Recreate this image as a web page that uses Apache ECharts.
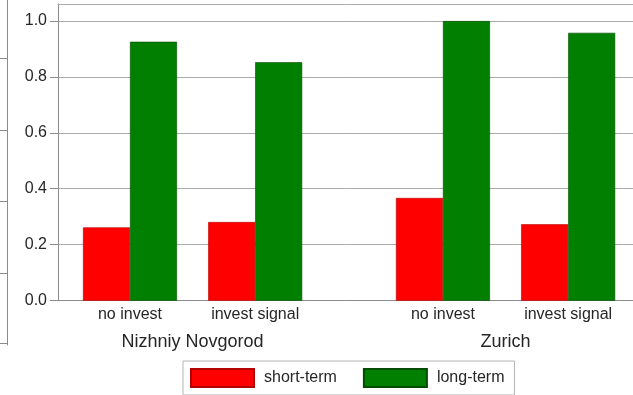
<!DOCTYPE html>
<html>
<head>
<meta charset="utf-8">
<script src="https://cdn.jsdelivr.net/npm/echarts@6/dist/echarts.min.js"></script>
<style>
  html, body { margin: 0; padding: 0; background: #fff; }
  #chart { width: 633px; height: 395px; }
</style>
</head>
<body>
<div id="chart"></div>
<script>
// Share of respondents by planning horizon, per city and condition
const cities = ['Nizhniy Novgorod', 'Zurich'];
const conditions = ['no invest', 'invest signal'];
const seriesNames = ['short-term', 'long-term'];
const shortTerm = [0.262, 0.281, 0.367, 0.273];
const longTerm = [0.925, 0.852, 0.999, 0.957];
const yTicks = [0, 0.2, 0.4, 0.6, 0.8, 1.0];

// Layout of the bar pairs along a numeric x axis: conditions are one unit apart,
// cities are separated by a wider step.
const GROUP_STEP = 2.5;
const xPos = [];
cities.forEach((c, g) => conditions.forEach((_, k) => xPos.push(g * GROUP_STEP + k)));
const cityPos = cities.map((c, g) => g * GROUP_STEP + (conditions.length - 1) / 2);

const FONT = '"Liberation Sans", Arial, Helvetica, sans-serif';
const AXIS_GRAY = '#8c8c8c';
const GRID_GRAY = '#ababab';
const TEXT = '#262626';

const chart = echarts.init(document.getElementById('chart'), null, { renderer: 'canvas' });

chart.setOption({
  animation: false,
  backgroundColor: '#ffffff',
  textStyle: { fontFamily: FONT },
  grid: [
    { left: 58, right: 0, top: 4, bottom: 94.3, outerBoundsMode: 'none', containLabel: false },
    // edge of the neighbouring panel on the left
    { left: -120, right: 626, top: -20, bottom: 50, outerBoundsMode: 'none', containLabel: false }
  ],
  legend: {
    data: seriesNames,
    left: 183,
    top: 361,
    orient: 'horizontal',
    icon: 'rect',
    itemWidth: 63,
    itemHeight: 18,
    itemGap: 26,
    padding: [7, 10, 7, 7],
    borderColor: '#b4b4b4',
    borderWidth: 1,
    borderRadius: 0,
    textStyle: { fontSize: 16, color: TEXT, fontFamily: FONT, padding: [0, 0, 0, 5] }
  },
  xAxis: [
    {
      gridIndex: 0,
      type: 'value',
      position: 'bottom',
      min: -0.575,
      max: 4.018,
      splitLine: { show: false },
      axisLine: { show: true, onZero: false, lineStyle: { color: AXIS_GRAY, width: 1 } },
      axisTick: { show: false },
      axisLabel: {
        customValues: xPos,
        formatter: v => {
          const i = xPos.indexOf(v);
          return i >= 0 ? conditions[i % conditions.length] : '';
        },
        fontSize: 16,
        color: TEXT,
        margin: 6,
        fontFamily: FONT
      }
    },
    {
      gridIndex: 0,
      type: 'value',
      position: 'bottom',
      min: -0.575,
      max: 4.018,
      splitLine: { show: false },
      axisLine: { show: false },
      axisTick: { show: false },
      axisLabel: {
        customValues: cityPos,
        formatter: v => {
          const i = cityPos.indexOf(v);
          return i >= 0 ? cities[i] : '';
        },
        fontSize: 18,
        color: TEXT,
        margin: 32,
        fontFamily: FONT
      }
    },
    {
      gridIndex: 0,
      type: 'value',
      position: 'top',
      min: -0.575,
      max: 4.018,
      splitLine: { show: false },
      axisLine: { show: true, onZero: false, lineStyle: { color: GRID_GRAY, width: 1 } },
      axisTick: { show: false },
      axisLabel: { show: false }
    },
    {
      gridIndex: 1,
      type: 'value',
      position: 'bottom',
      offset: -2,
      min: 0,
      max: 1,
      splitLine: { show: false },
      axisLine: { show: true, onZero: false, lineStyle: { color: AXIS_GRAY, width: 1 } },
      axisTick: { show: false },
      axisLabel: { show: false }
    }
  ],
  yAxis: [
    {
      gridIndex: 0,
      type: 'value',
      min: 0,
      max: 1.06,
      interval: 0.2,
      axisLine: { show: true, onZero: false, lineStyle: { color: AXIS_GRAY, width: 1 } },
      axisTick: { show: true, length: 8, customValues: yTicks, lineStyle: { color: AXIS_GRAY } },
      axisLabel: {
        customValues: yTicks,
        formatter: v => v.toFixed(1),
        fontSize: 16,
        color: TEXT,
        margin: 11,
        fontFamily: FONT
      },
      splitLine: { show: true, lineStyle: { color: GRID_GRAY, width: 1 } }
    },
    {
      gridIndex: 1,
      type: 'value',
      position: 'right',
      min: 0,
      max: 5.09,
      interval: 1,
      axisLine: { show: true, onZero: false, lineStyle: { color: AXIS_GRAY, width: 1 } },
      axisTick: { show: false },
      axisLabel: { show: false },
      splitLine: { show: true, showMinLine: false, lineStyle: { color: AXIS_GRAY, width: 1 } }
    }
  ],
  series: [
    {
      name: seriesNames[0],
      type: 'bar',
      xAxisIndex: 0,
      yAxisIndex: 0,
      barWidth: 47,
      barGap: '0%',
      itemStyle: { color: '#ff0000', borderColor: '#b30000', borderWidth: 0.6 },
      data: shortTerm.map((v, i) => [xPos[i], v])
    },
    {
      name: seriesNames[1],
      type: 'bar',
      xAxisIndex: 0,
      yAxisIndex: 0,
      barWidth: 47,
      barGap: '0%',
      itemStyle: { color: '#007f00', borderColor: '#004d00', borderWidth: 0.6 },
      data: longTerm.map((v, i) => [xPos[i], v])
    }
  ]
});
</script>
</body>
</html>
